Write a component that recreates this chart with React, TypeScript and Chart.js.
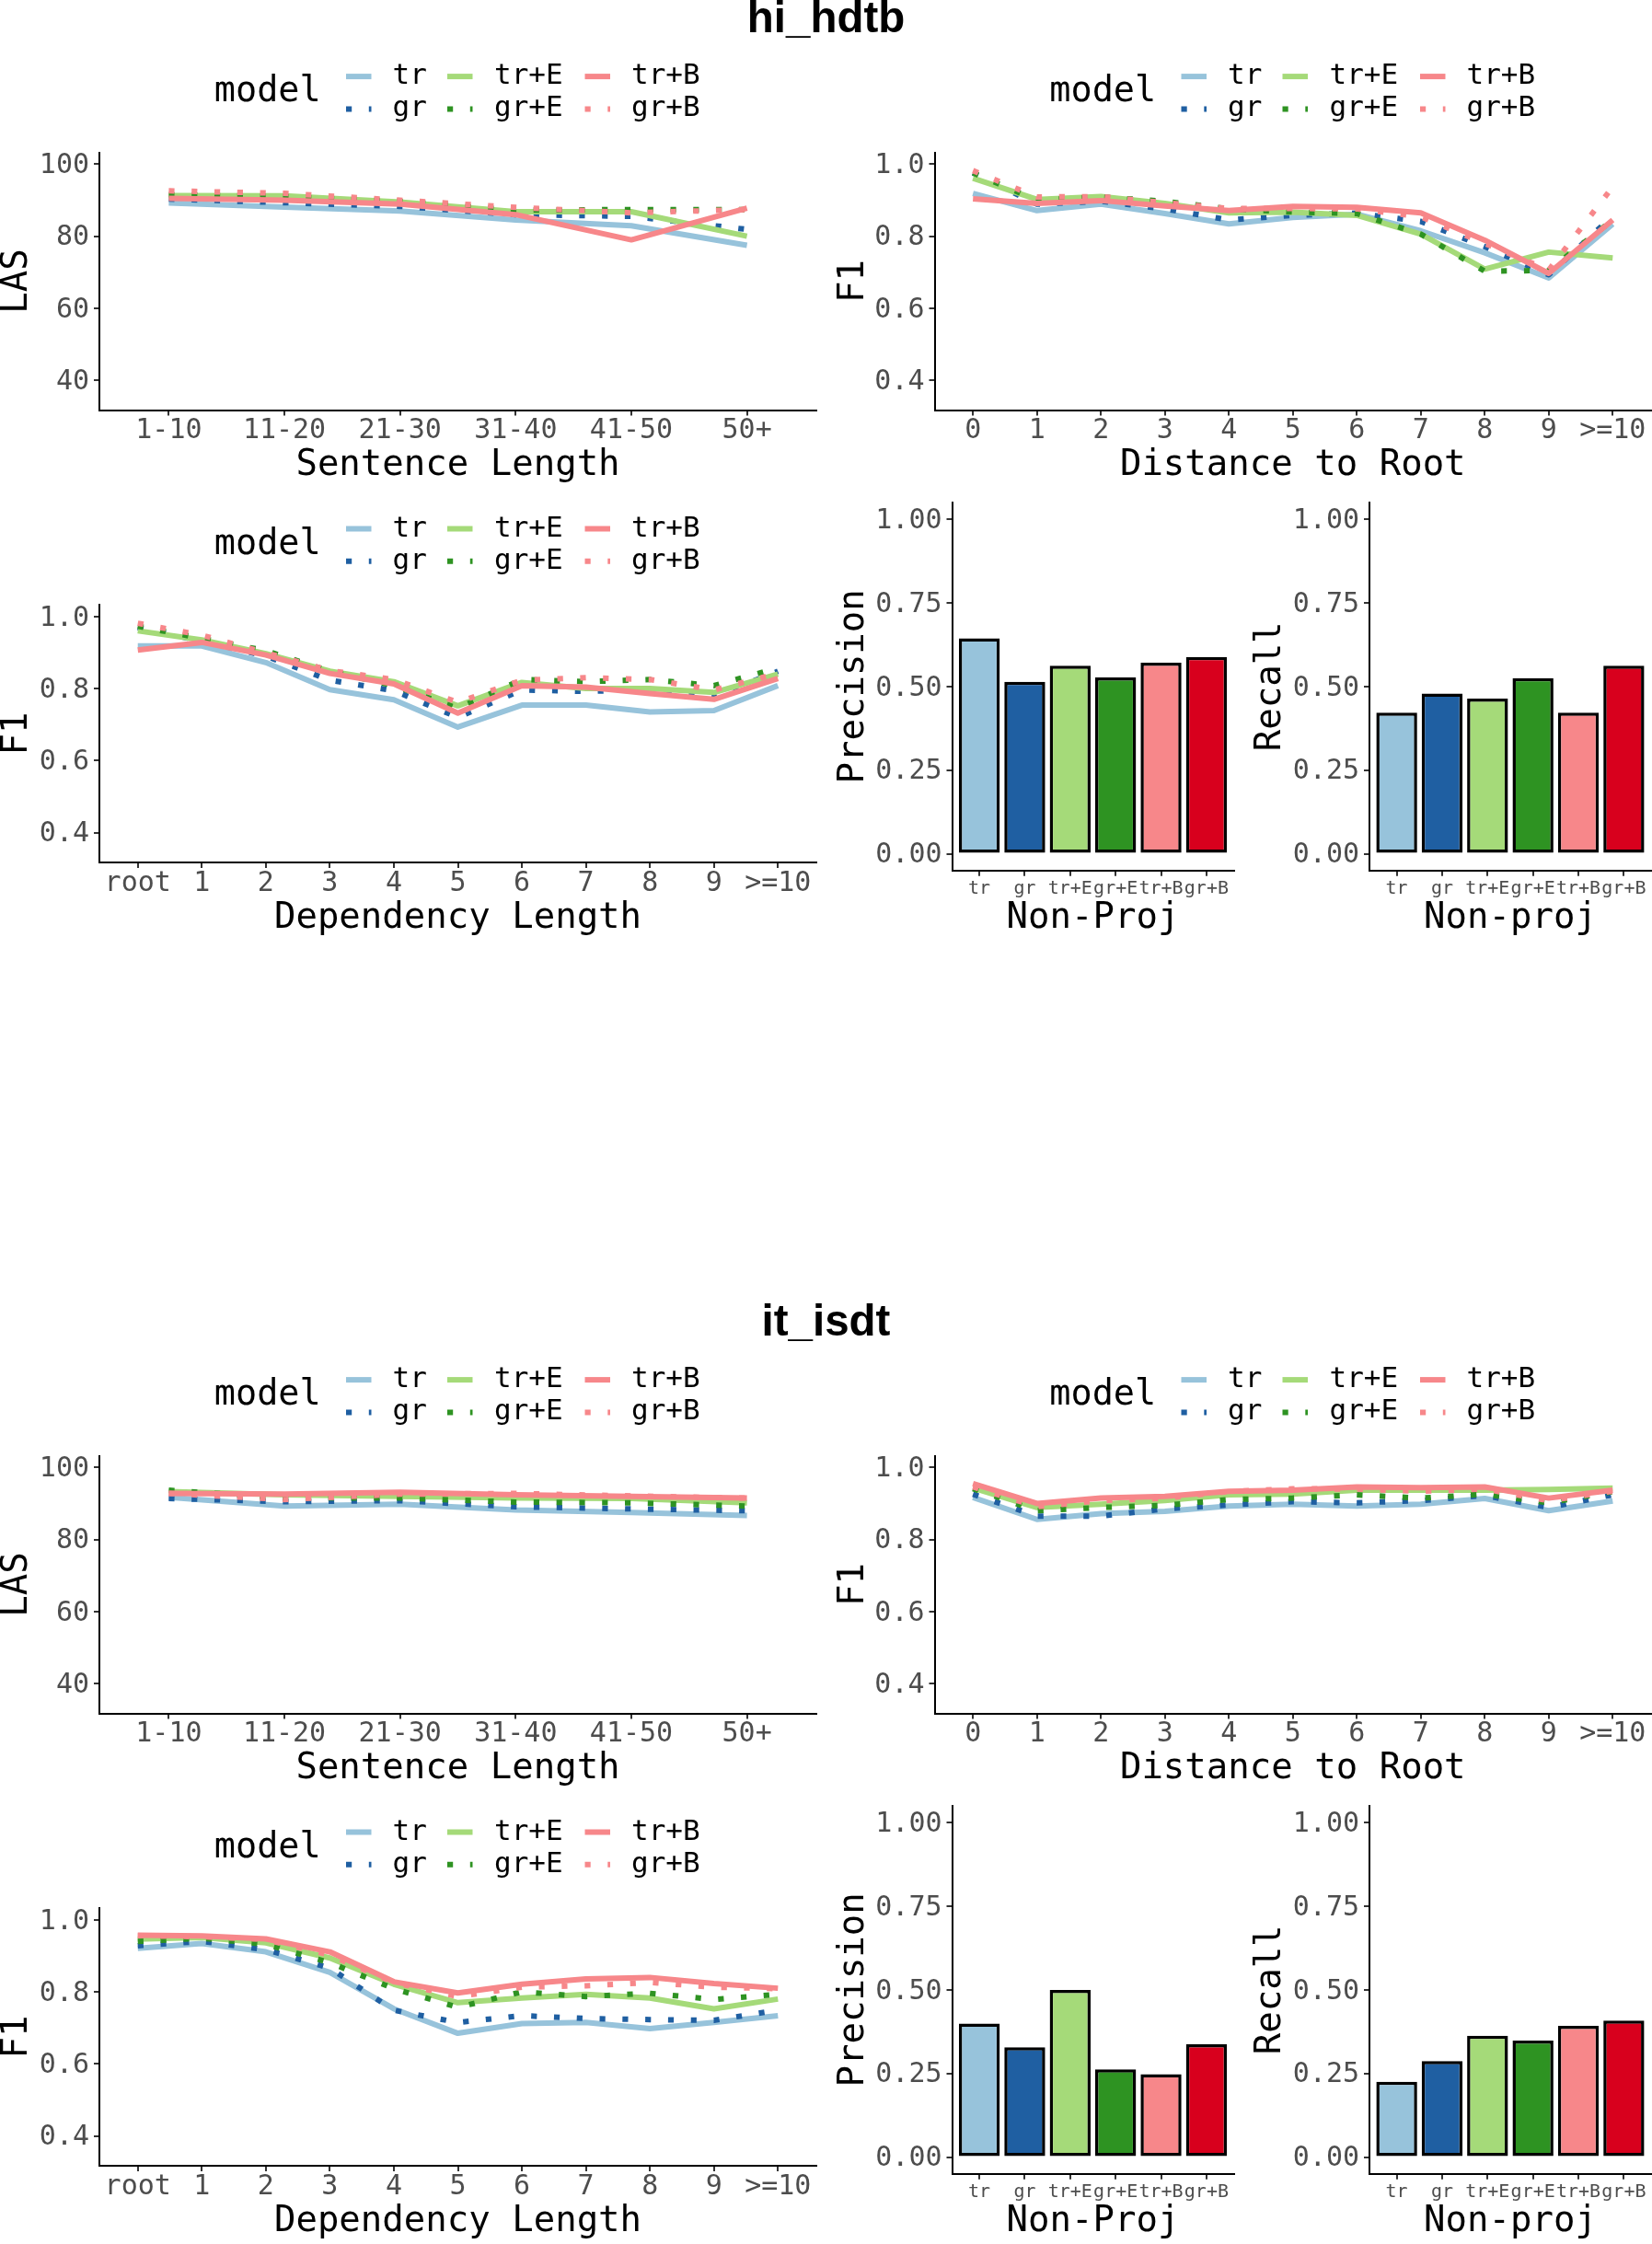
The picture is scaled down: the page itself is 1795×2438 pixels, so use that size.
import React, { useEffect, useRef } from 'react';
import { Chart, registerables } from 'chart.js';

Chart.register(...registerables);

// ---------------- categories / tick labels ----------------
const MODELS = ['tr', 'gr', 'tr+E', 'gr+E', 'tr+B', 'gr+B'];
const SENT_LEN = ['1-10', '11-20', '21-30', '31-40', '41-50', '50+'];
const DIST_ROOT = ['0', '1', '2', '3', '4', '5', '6', '7', '8', '9', '>=10'];
const DEP_LEN = ['root', '1', '2', '3', '4', '5', '6', '7', '8', '9', '>=10'];
const LAS_TICKS = [40, 60, 80, 100];
const LAS_TICK_LABELS = ['40', '60', '80', '100'];
const F1_TICKS = [0.4, 0.6, 0.8, 1.0];
const F1_TICK_LABELS = ['0.4', '0.6', '0.8', '1.0'];
const PR_TICKS = [0, 0.25, 0.5, 0.75, 1];
const PR_TICK_LABELS = ['0.00', '0.25', '0.50', '0.75', '1.00'];

// ---------------- hi_hdtb (rows in MODELS order) ----------------
const HI_LAS: number[][] = [
  [89.2, 88.1, 87.0, 84.5, 82.9, 77.5],
  [90.3, 89.3, 88.3, 86.0, 85.5, 81.9],
  [91.3, 91.2, 89.5, 86.8, 86.8, 80.0],
  [91.5, 91.0, 89.7, 87.2, 87.4, 87.4],
  [90.5, 90.0, 88.9, 86.0, 79.0, 87.8],
  [92.6, 91.9, 90.0, 88.0, 86.5, 87.4],
];
const HI_DIST: number[][] = [
  [0.919, 0.871, 0.889, 0.863, 0.834, 0.852, 0.861, 0.815, 0.754, 0.684, 0.834],
  [0.976, 0.889, 0.897, 0.876, 0.845, 0.858, 0.864, 0.841, 0.771, 0.693, 0.856],
  [0.961, 0.902, 0.910, 0.891, 0.865, 0.867, 0.858, 0.806, 0.709, 0.756, 0.740],
  [0.976, 0.900, 0.909, 0.897, 0.876, 0.867, 0.863, 0.806, 0.703, 0.705, 0.845],
  [0.904, 0.891, 0.899, 0.884, 0.871, 0.883, 0.880, 0.865, 0.789, 0.697, 0.845],
  [0.982, 0.909, 0.910, 0.893, 0.877, 0.877, 0.876, 0.854, 0.780, 0.706, 0.937],
];
const HI_DEP: number[][] = [
  [0.918, 0.918, 0.872, 0.797, 0.769, 0.693, 0.754, 0.754, 0.735, 0.739, 0.808],
  [0.969, 0.932, 0.890, 0.823, 0.794, 0.720, 0.796, 0.792, 0.797, 0.777, 0.848],
  [0.960, 0.935, 0.897, 0.848, 0.819, 0.752, 0.817, 0.800, 0.800, 0.789, 0.840],
  [0.973, 0.939, 0.905, 0.848, 0.808, 0.745, 0.825, 0.819, 0.825, 0.808, 0.857],
  [0.907, 0.928, 0.893, 0.842, 0.813, 0.732, 0.808, 0.804, 0.786, 0.770, 0.828],
  [0.981, 0.948, 0.899, 0.850, 0.825, 0.762, 0.823, 0.830, 0.825, 0.796, 0.842],
];
const HI_PRECISION = [0.644, 0.514, 0.562, 0.527, 0.571, 0.588];
const HI_RECALL = [0.422, 0.479, 0.464, 0.525, 0.422, 0.562];

// ---------------- it_isdt (rows in MODELS order) ----------------
const IT_LAS: number[][] = [
  [91.7, 89.3, 89.8, 88.2, 87.5, 86.7],
  [91.4, 90.5, 90.8, 89.1, 88.5, 88.0],
  [93.3, 92.4, 92.0, 91.5, 91.4, 90.2],
  [93.7, 91.5, 91.5, 90.4, 90.2, 89.3],
  [92.8, 92.6, 93.1, 92.4, 92.0, 91.5],
  [92.8, 91.1, 92.6, 92.8, 92.1, 91.5],
];
const IT_DIST: number[][] = [
  [0.917, 0.856, 0.872, 0.878, 0.893, 0.898, 0.893, 0.898, 0.914, 0.880, 0.907],
  [0.926, 0.865, 0.865, 0.885, 0.896, 0.905, 0.902, 0.908, 0.922, 0.889, 0.924],
  [0.943, 0.889, 0.898, 0.908, 0.924, 0.926, 0.937, 0.937, 0.937, 0.939, 0.943],
  [0.941, 0.880, 0.889, 0.895, 0.911, 0.915, 0.924, 0.915, 0.926, 0.902, 0.933],
  [0.955, 0.900, 0.915, 0.920, 0.934, 0.937, 0.946, 0.944, 0.946, 0.915, 0.937],
  [0.946, 0.891, 0.908, 0.915, 0.933, 0.941, 0.940, 0.934, 0.940, 0.908, 0.934],
];
const IT_DEP: number[][] = [
  [0.921, 0.934, 0.911, 0.854, 0.753, 0.685, 0.712, 0.715, 0.698, 0.715, 0.734],
  [0.928, 0.940, 0.917, 0.866, 0.749, 0.715, 0.734, 0.726, 0.723, 0.721, 0.749],
  [0.946, 0.951, 0.936, 0.894, 0.821, 0.770, 0.783, 0.793, 0.783, 0.753, 0.780],
  [0.940, 0.949, 0.932, 0.881, 0.809, 0.757, 0.800, 0.787, 0.796, 0.779, 0.793],
  [0.957, 0.955, 0.947, 0.911, 0.828, 0.797, 0.821, 0.836, 0.840, 0.823, 0.810],
  [0.956, 0.953, 0.945, 0.902, 0.826, 0.787, 0.813, 0.817, 0.826, 0.813, 0.809],
];
const IT_PRECISION = [0.399, 0.328, 0.4995, 0.262, 0.248, 0.337];
const IT_RECALL = [0.225, 0.287, 0.363, 0.348, 0.392, 0.408];

// ---------------- styles ----------------
const BAR_COLORS = ['#97C3DB', '#1F5FA2', '#A5DA79', '#2E9322', '#F7878A', '#D8001D'];
const LINE_COLORS = ['#97C3DB', '#1F5FA2', '#A5DA79', '#2E9322', '#F7878A', '#F7878A'];
const DOTTED = [false, true, false, true, false, true];
const MONO = '"DejaVu Sans Mono", monospace';
const TICK_COLOR = '#4D4D4D';
const LINE_W = 6;
const DOT_DASH = [6.2, 18.6];
const SECTION_DY = 1416;

type PanelSpec = {
  kind: 'line' | 'bar';
  box: [number, number, number, number];
  area: [number, number, number, number];
  cats: string[];
  series: number[][];
  yMin: number;
  yMax: number;
  yTicks: number[];
  yLabels: string[];
  yTitle: string;
  yTitleX: number;
  xTitle: string;
  xTitleY: number;
};

const modelLegend = {
  id: 'modelLegend',
  afterDraw(chart: any, _args: any, opts: any) {
    if (!opts || !opts.show) return;
    const ctx = chart.ctx as CanvasRenderingContext2D;
    const a = chart.chartArea;
    const rowY = [a.top - 82.5, a.top - 47.2];
    const keyX = [268, 378, 527.5];
    const labX = [318.5, 429, 578];
    ctx.save();
    ctx.fillStyle = '#000';
    ctx.textBaseline = 'middle';
    ctx.textAlign = 'left';
    ctx.font = `38.5px ${MONO}`;
    ctx.fillText('model', a.left + 124.8, a.top - 65.5);
    ctx.font = `31px ${MONO}`;
    chart.data.datasets.forEach((ds: any, i: number) => {
      const col = Math.floor(i / 2);
      const row = i % 2;
      const x0 = a.left + keyX[col];
      const y = rowY[row];
      ctx.strokeStyle = ds.borderColor;
      ctx.lineWidth = LINE_W;
      ctx.lineCap = 'butt';
      ctx.setLineDash(ds.borderDash || []);
      ctx.beginPath();
      ctx.moveTo(x0, y);
      ctx.lineTo(x0 + 27.5, y);
      ctx.stroke();
      ctx.setLineDash([]);
      ctx.fillText(ds.label, a.left + labX[col], y);
    });
    ctx.restore();
  },
};

function buildConfig(p: PanelSpec): any {
  const [bx, by, bw, bh] = p.box;
  const [l, t, r, b] = p.area;
  const isBar = p.kind === 'bar';
  const yAxisW = l - bx;
  const xAxisH = by + bh - b;
  const titleLH = 0.8;
  const titleHalf = (39 * titleLH) / 2;
  const gridOpts = {
    display: true,
    drawOnChartArea: false,
    drawTicks: true,
    tickLength: 6,
    color: '#333333',
    lineWidth: 2,
    offset: false,
  };
  const borderOpts = { display: true, color: '#000000', width: 2 };

  const xScale = {
    type: 'linear',
    min: 0.4,
    max: p.cats.length + 0.6,
    offset: false,
    afterBuildTicks: (s: any) => {
      s.ticks = p.cats.map((_c, i) => ({ value: i + 1 }));
    },
    afterFit: (s: any) => {
      s.height = xAxisH;
      s.paddingLeft = 0;
      s.paddingRight = 0;
    },
    ticks: {
      autoSkip: false,
      maxRotation: 0,
      minRotation: 0,
      padding: isBar ? 3 : 0.5,
      color: TICK_COLOR,
      font: { family: MONO, size: isBar ? 20 : 30, lineHeight: 1.1 },
      callback: (_v: any, i: number) => p.cats[i],
    },
    grid: gridOpts,
    border: borderOpts,
    title: {
      display: true,
      text: p.xTitle,
      color: '#000000',
      font: { family: MONO, size: 39, lineHeight: titleLH },
      padding: { top: 0, bottom: by + bh - p.xTitleY - titleHalf },
    },
  };

  const yScale = {
    type: 'linear',
    min: p.yMin,
    max: p.yMax,
    afterBuildTicks: (s: any) => {
      s.ticks = p.yTicks.map((v) => ({ value: v }));
    },
    afterFit: (s: any) => {
      s.width = yAxisW;
      s.paddingTop = 0;
      s.paddingBottom = 0;
    },
    ticks: {
      autoSkip: false,
      padding: 5,
      labelOffset: 2,
      color: TICK_COLOR,
      font: { family: MONO, size: 30, lineHeight: 1.1 },
      callback: (_v: any, i: number) => p.yLabels[i],
    },
    grid: gridOpts,
    border: borderOpts,
    title: {
      display: true,
      text: p.yTitle,
      color: '#000000',
      font: { family: MONO, size: 39, lineHeight: titleLH },
      padding: { top: p.yTitleX - bx - titleHalf, bottom: 0 },
    },
  };

  const datasets = isBar
    ? [
        {
          label: p.yTitle,
          data: p.series[0].map((v, i) => ({ x: i + 1, y: v })),
          backgroundColor: BAR_COLORS,
          borderColor: '#000000',
          borderWidth: 3.5,
          borderSkipped: false,
          barPercentage: 0.9,
          categoryPercentage: 1,
        },
      ]
    : p.series.map((vals, i) => ({
        label: MODELS[i],
        data: vals.map((v, j) => ({ x: j + 1, y: v })),
        borderColor: LINE_COLORS[i],
        backgroundColor: LINE_COLORS[i],
        borderWidth: LINE_W,
        borderDash: DOTTED[i] ? DOT_DASH : [],
        borderCapStyle: 'butt',
        borderJoinStyle: 'round',
        pointRadius: 0,
        pointHoverRadius: 0,
        tension: 0,
        fill: false,
        order: MODELS.length - 1 - i,
      }));

  return {
    type: isBar ? 'bar' : 'line',
    data: { datasets },
    plugins: [modelLegend],
    options: {
      animation: false,
      responsive: false,
      events: [],
      layout: { padding: { top: t - by, right: bx + bw - r, left: 0, bottom: 0 } },
      plugins: {
        legend: { display: false },
        tooltip: { enabled: false },
        title: { display: false },
        modelLegend: { show: !isBar },
      },
      scales: { x: xScale, y: yScale },
    },
  };
}

function Panel({ spec, dy }: { spec: PanelSpec; dy: number }) {
  const ref = useRef<HTMLCanvasElement>(null);
  useEffect(() => {
    if (!ref.current) return;
    const chart = new Chart(ref.current, buildConfig(spec));
    return () => chart.destroy();
  }, [spec]);
  const [x, y, w, h] = spec.box;
  return (
    <canvas
      ref={ref}
      width={w}
      height={h}
      style={{ position: 'absolute', left: x, top: y + dy, width: w, height: h }}
    />
  );
}

function makeSpecs(las: number[][], dist: number[][], dep: number[][], prec: number[], rec: number[]): PanelSpec[] {
  const f1 = { yMin: 0.3175, yMax: 1.0325, yTicks: F1_TICKS, yLabels: F1_TICK_LABELS };
  const pr = { yMin: -0.05, yMax: 1.05, yTicks: PR_TICKS, yLabels: PR_TICK_LABELS };
  return [
    {
      kind: 'line', box: [0, 40, 897, 490], area: [108, 165.6, 887, 445.6], cats: SENT_LEN, series: las,
      yMin: 31.75, yMax: 103.25, yTicks: LAS_TICKS, yLabels: LAS_TICK_LABELS,
      yTitle: 'LAS', yTitleX: 18.5, xTitle: 'Sentence Length', xTitleY: 505.5,
    },
    {
      kind: 'line', box: [897, 40, 898, 490], area: [1015.5, 165.6, 1794, 445.6], cats: DIST_ROOT, series: dist,
      ...f1, yTitle: 'F1', yTitleX: 927.5, xTitle: 'Distance to Root', xTitleY: 505.5,
    },
    {
      kind: 'line', box: [0, 530, 897, 500], area: [108, 657, 887, 937], cats: DEP_LEN, series: dep,
      ...f1, yTitle: 'F1', yTitleX: 18.5, xTitle: 'Dependency Length', xTitleY: 998,
    },
    {
      kind: 'bar', box: [897, 530, 448, 500], area: [1034.5, 546, 1340.5, 945.7], cats: MODELS, series: [prec],
      ...pr, yTitle: 'Precision', yTitleX: 927.5, xTitle: 'Non-Proj', xTitleY: 998,
    },
    {
      kind: 'bar', box: [1345, 530, 450, 500], area: [1488, 546, 1794, 945.7], cats: MODELS, series: [rec],
      ...pr, yTitle: 'Recall', yTitleX: 1381, xTitle: 'Non-proj', xTitleY: 998,
    },
  ] as PanelSpec[];
}

const SECTIONS = [
  { name: 'hi_hdtb', specs: makeSpecs(HI_LAS, HI_DIST, HI_DEP, HI_PRECISION, HI_RECALL) },
  { name: 'it_isdt', specs: makeSpecs(IT_LAS, IT_DIST, IT_DEP, IT_PRECISION, IT_RECALL) },
];

export default function App() {
  return (
    <div style={{ position: 'absolute', left: 0, top: 0, width: 1795, height: 2438, background: '#ffffff', overflow: 'hidden' }}>
      {SECTIONS.map((sec, si) => (
        <React.Fragment key={sec.name}>
          {sec.specs.map((spec, pi) => (
            <Panel key={pi} spec={spec} dy={si * SECTION_DY} />
          ))}
          <div
            style={{
              position: 'absolute',
              left: 0,
              width: 1795,
              top: -4.7 + si * SECTION_DY,
              textAlign: 'center',
              fontFamily: '"Liberation Sans", Arial, sans-serif',
              fontWeight: 'bold',
              fontSize: 47.5,
              lineHeight: '47.5px',
              color: '#000',
            }}
          >
            {sec.name}
          </div>
        </React.Fragment>
      ))}
    </div>
  );
}
